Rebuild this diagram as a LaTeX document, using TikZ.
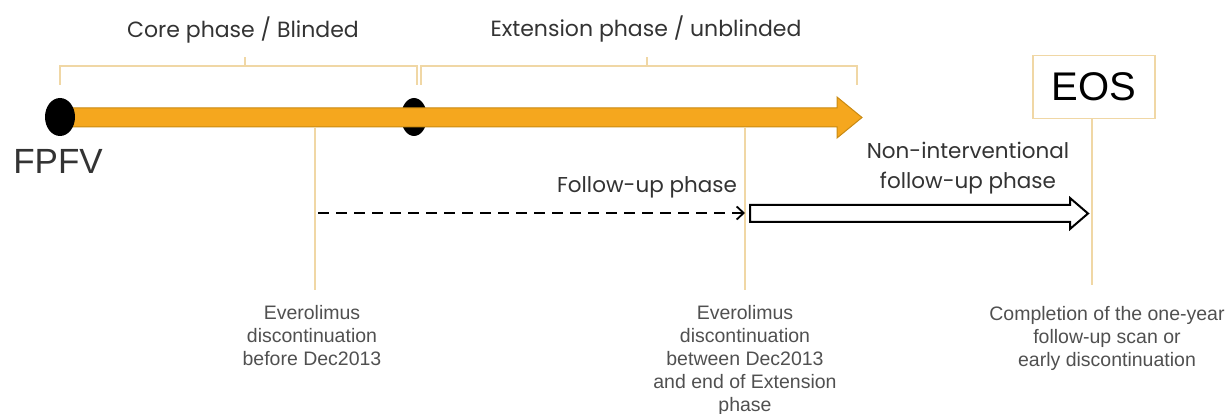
\documentclass[tikz,border=0pt]{standalone}
\usepackage{fontspec}
\setmainfont{Liberation Sans}
\newfontfamily\geo{Poppins}
\usetikzlibrary{shapes.geometric,arrows.meta}
\definecolor{barorange}{HTML}{F5A71E}
\definecolor{bardark}{HTML}{C98A12}
\definecolor{tanline}{HTML}{F0D7A5}
\definecolor{txtdark}{HTML}{333333}
\definecolor{txtgray}{HTML}{505050}
\begin{document}
\begin{tikzpicture}[x=1pt,y=-1pt,
  toplabel/.style={font=\geo\fontsize{22}{30}\selectfont, text=txtdark, align=center, inner sep=0pt},
  midlabel/.style={font=\geo\fontsize{21.5}{30}\selectfont, text=txtdark, align=center, inner sep=0pt},
  botlabel/.style={font=\fontsize{19.5}{23}\selectfont, text=txtgray, align=center, inner sep=0pt, anchor=north},
  bracketline/.style={draw=tanline, line width=1.6pt},
  markline/.style={draw=tanline, line width=2pt},
  dot/.style={ellipse, fill=black, inner sep=0pt}
]
\useasboundingbox (0,0) rectangle (1227,414);

% middle dot (behind bar)
\node[dot, minimum width=26, minimum height=38] (d2) at (414,117) {};

% orange bar arrow
\filldraw[fill=barorange, draw=bardark, line width=1pt, line join=miter]
  (60,108) -- (837,108) -- (837,97) -- (862,117.5) -- (837,138) -- (837,127) -- (60,127) -- cycle;
\coordinate (bartip) at (862,117.5);

% FPFV dot
\node[dot, minimum width=30, minimum height=38] (d1) at (60,117) {};
\node[font=\fontsize{35}{40}\selectfont, text=txtdark, inner sep=0pt] (fpfv) at (58,161) {FPFV};

% brackets
\node[toplabel] (core) at (243,30) {Core phase / Blinded};
\node[toplabel] (ext) at (646,29) {Extension phase / unblinded};
\coordinate (c1) at (60,85);
\coordinate (c2) at (417,85);
\coordinate (e1) at (421,85);
\coordinate (e2) at (857,85);
\draw[bracketline] (c1) -- (60,66) -- (417,66) -- (c2);
\draw[bracketline] (245,66) -- (245,57);
\draw[bracketline] (e1) -- (421,66) -- (857,66) -- (e2);
\draw[bracketline] (647,66) -- (647,57);

% EOS
\node[draw=tanline, line width=1.4pt, minimum width=122, minimum height=63, inner sep=0pt,
      font=\fontsize{40}{44}\selectfont, text=black] (eos) at (1094,87) {EOS};

% bottom labels
\node[botlabel] (l1) at (312,305) {Everolimus\\discontinuation\\before Dec2013};
\node[botlabel] (l2) at (745,305) {Everolimus\\discontinuation\\between Dec2013\\and end of Extension\\phase};
\node[botlabel] (l3) at (1107,306) {Completion of the one-year\\follow-up scan or\\early discontinuation};

% vertical markers
\coordinate (m1) at (315,127);
\coordinate (m2) at (745,127);
\coordinate (m1b) at (315,290);
\coordinate (m2b) at (745,290);
\coordinate (m3b) at (1092,285);
\draw[markline] (m1) -- (m1b);
\draw[markline] (m2) -- (m2b);
\draw[markline] (eos.south -| m3b) -- (m3b);

% follow-up dashed arrow
\node[midlabel] (fu) at (647,187) {Follow-up phase};
\coordinate (fs) at (318,213);
\coordinate (fe) at (745,213);
\draw[black, line width=1.8pt, dash pattern=on 11pt off 7pt, -{Straight Barb[length=7pt,width=13pt,line width=1.8pt]}] (fs) -- (fe);

% non-interventional hollow arrow
\node[midlabel] (ni) at (968,168) {Non-interventional\\follow-up phase};
\filldraw[fill=white, draw=black, line width=2pt, line join=miter]
  (750,205) -- (1070,205) -- (1070,198) -- (1088,213.5) -- (1070,229) -- (1070,222) -- (750,222) -- cycle;
\end{tikzpicture}
\end{document}
